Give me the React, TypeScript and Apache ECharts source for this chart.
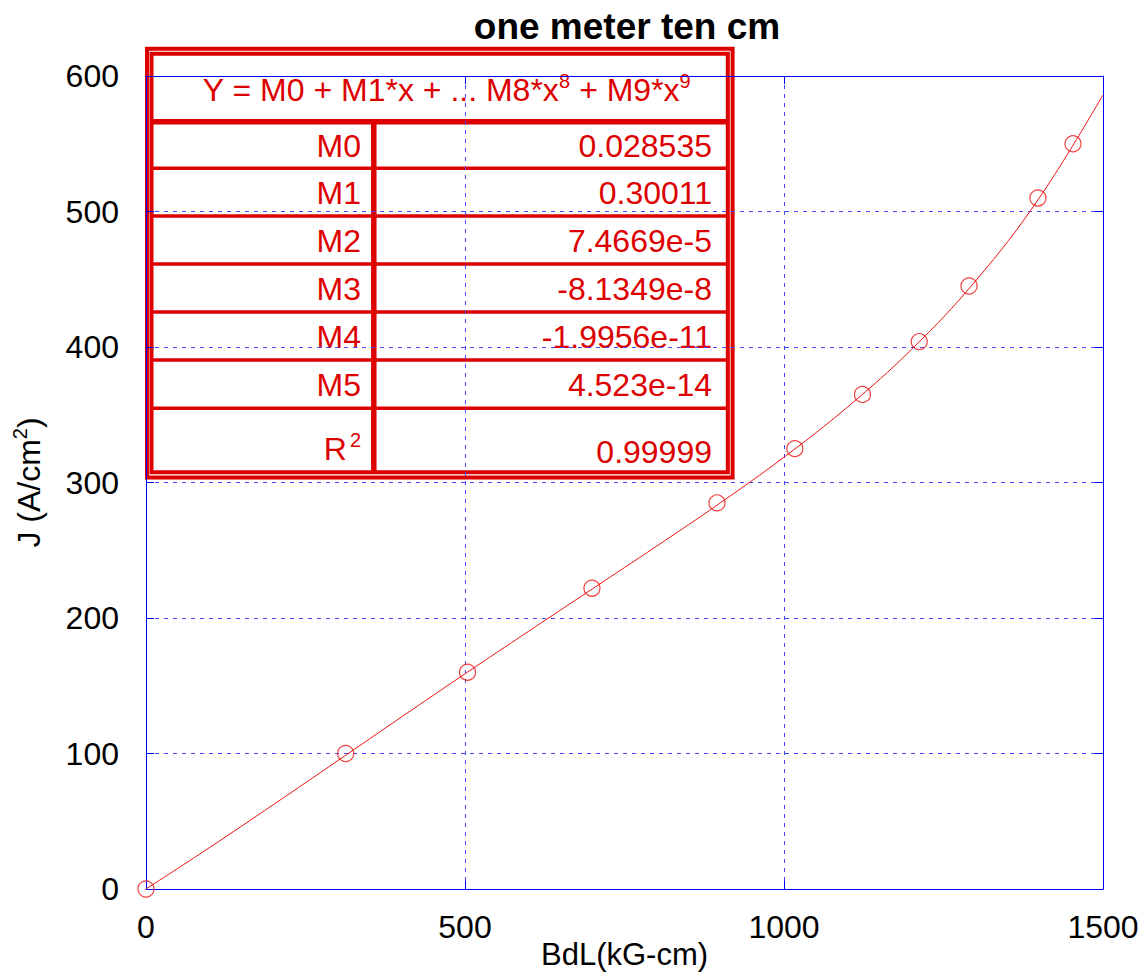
import React, { useEffect, useRef } from "react";
import * as echarts from "echarts";

const titleText = "one meter ten cm";
const xAxisName = "BdL(kG-cm)";
const yAxisNameParts = ["J (A/cm", "2", ")"];

const xTicks = { min: 0, max: 1500, interval: 500 };
const yTicks = { min: 0, max: 600, interval: 100 };

// measured points
const pointsX = [0, 313, 504, 699, 895, 1017, 1123, 1212, 1290, 1398, 1453];
const pointsY = [0, 100, 160, 222, 285, 325, 365, 404, 445, 510, 550];

// fitted curve
const curveX = [0, 100, 200, 300, 400, 500, 600, 700, 800, 900, 1000, 1100, 1200, 1300, 1400, 1500];
const curveY = [0, 30.7, 62.4, 94.5, 126.8, 158.8, 190.3, 221.6, 252.9, 284.9, 318.7, 355.9, 398.3, 448.6, 509.9, 586.1];

// fit table
const equationParts = ["Y = M0 + M1*x + ... M8*x", "8", " + M9*x", "9"];
const coefLabels = ["M0", "M1", "M2", "M3", "M4", "M5"];
const coefValues = ["0.028535", "0.30011", "7.4669e-5", "-8.1349e-8", "-1.9956e-11", "4.523e-14"];
const r2Label = ["R", "2"];
const r2Value = "0.99999";

const RED = "#dd0000";
const LINE_RED = "#ee1111";
const BLUE = "#0000ff";
const GRID_BLUE = "#4646ff";
const FONT = "'Liberation Sans', Arial, sans-serif";

export default function App() {
  const ref = useRef<HTMLDivElement>(null);

  useEffect(() => {
    document.body.style.margin = "0";
    const chart = echarts.init(ref.current!, null, { renderer: "svg" });

    // table layout
    const tL = 151.5, tR = 727.8, tT = 53.7, tB = 472.3;
    const headerLine = 121.8;
    const colX = 373.8;
    const rowLines = [168.2, 216, 264, 312, 360, 408.3];
    const rowTops = [headerLine, ...rowLines];
    const tableEls: any[] = [];
    tableEls.push({
      type: "rect",
      shape: { x: 147, y: 48.7, width: 585.6, height: 428.9 },
      style: { fill: "#ffffff", stroke: RED, lineWidth: 4 },
    });
    tableEls.push({
      type: "rect",
      shape: { x: tL, y: tT, width: tR - tL, height: tB - tT },
      style: { fill: "none", stroke: RED, lineWidth: 4 },
    });
    tableEls.push({
      type: "line",
      shape: { x1: tL, y1: headerLine, x2: tR, y2: headerLine },
      style: { stroke: RED, lineWidth: 5.5 },
    });
    tableEls.push({
      type: "line",
      shape: { x1: colX, y1: headerLine, x2: colX, y2: tB },
      style: { stroke: RED, lineWidth: 5.5 },
    });
    rowLines.forEach((y) =>
      tableEls.push({
        type: "line",
        shape: { x1: tL, y1: y, x2: tR, y2: y },
        style: { stroke: RED, lineWidth: 3.5 },
      })
    );
    tableEls.push({
      type: "text",
      x: (tL + tR) / 2 + 7,
      y: (tT + headerLine) / 2 + 2,
      style: {
        text: `{n|${equationParts[0]}}{s|${equationParts[1]}}{n|${equationParts[2]}}{s|${equationParts[3]}}`,
        align: "center",
        verticalAlign: "middle",
        rich: {
          n: { fontSize: 32, fontFamily: FONT, fill: RED, lineHeight: 38 },
          s: { fontSize: 20, fontFamily: FONT, fill: RED, padding: [0, 0, 18, 0] },
        },
      },
    });
    coefLabels.forEach((lab, i) => {
      const cy = (rowTops[i] + rowTops[i + 1]) / 2 + 1;
      tableEls.push({
        type: "text",
        x: 361,
        y: cy,
        style: { text: lab, align: "right", verticalAlign: "middle", fontSize: 32, fontFamily: FONT, fill: RED },
      });
      tableEls.push({
        type: "text",
        x: 712,
        y: cy,
        style: { text: coefValues[i], align: "right", verticalAlign: "middle", fontSize: 32, fontFamily: FONT, fill: RED },
      });
    });
    tableEls.push({
      type: "text",
      x: 361,
      y: 449,
      style: {
        text: `{n|${r2Label[0]}}{s|${r2Label[1]}}`,
        align: "right",
        verticalAlign: "middle",
        rich: {
          n: { fontSize: 32, fontFamily: FONT, fill: RED, lineHeight: 38 },
          s: { fontSize: 20, fontFamily: FONT, fill: RED, padding: [0, 0, 18, 3] },
        },
      },
    });
    tableEls.push({
      type: "text",
      x: 712,
      y: 452,
      style: { text: r2Value, align: "right", verticalAlign: "middle", fontSize: 32, fontFamily: FONT, fill: RED },
    });

    const axisCommon = {
      type: "value" as const,
      axisLine: { show: true, onZero: false, lineStyle: { color: BLUE, width: 1 } },
      axisTick: { show: true, inside: true, length: 8, lineStyle: { color: BLUE } },
    };
    const numFmt = (v: number) => String(v);

    chart.setOption({
      animation: false,
      backgroundColor: "#ffffff",
      title: {
        text: titleText,
        left: 622,
        top: 3,
        textAlign: "center",
        textStyle: { fontSize: 37, fontWeight: "bold", fontFamily: FONT, color: "#000" },
      },
      grid: {
        left: 146,
        right: 41,
        top: 76,
        bottom: 86,
        containLabel: false,
        outerBoundsMode: "none",
      },
      xAxis: [
        {
          ...axisCommon,
          position: "bottom",
          min: xTicks.min,
          max: xTicks.max,
          interval: xTicks.interval,
          name: xAxisName,
          nameLocation: "middle",
          nameGap: 50,
          nameMoveOverlap: false,
          nameTextStyle: { fontSize: 31, fontFamily: FONT, color: "#000", lineHeight: 31 },
          axisLabel: { margin: 22, fontSize: 32, fontFamily: FONT, color: "#000", formatter: numFmt },
          splitLine: { show: true, lineStyle: { color: GRID_BLUE, type: [4, 5], width: 1 } },
        },
        {
          ...axisCommon,
          position: "top",
          min: xTicks.min,
          max: xTicks.max,
          interval: xTicks.interval,
          axisLabel: { show: false },
          splitLine: { show: false },
        },
      ],
      yAxis: [
        {
          ...axisCommon,
          position: "left",
          min: yTicks.min,
          max: yTicks.max,
          interval: yTicks.interval,
          name: `{a|${yAxisNameParts[0]}}{s|${yAxisNameParts[1]}}{a|${yAxisNameParts[2]}}`,
          nameLocation: "middle",
          nameGap: 98,
          nameMoveOverlap: false,
          nameTextStyle: {
            rich: {
              a: { fontSize: 32, fontFamily: FONT, color: "#000", lineHeight: 38 },
              s: { fontSize: 20, fontFamily: FONT, color: "#000", padding: [0, 0, 18, 0] },
            },
          },
          axisLabel: { margin: 27, fontSize: 32, fontFamily: FONT, color: "#000", formatter: numFmt },
          splitLine: { show: true, lineStyle: { color: GRID_BLUE, type: [4, 5], width: 1 } },
        },
        {
          ...axisCommon,
          position: "right",
          min: yTicks.min,
          max: yTicks.max,
          interval: yTicks.interval,
          axisLabel: { show: false },
          splitLine: { show: false },
        },
      ],
      series: [
        {
          type: "line",
          data: curveX.map((x, i) => [x, curveY[i]]),
          smooth: 0.4,
          showSymbol: false,
          lineStyle: { color: LINE_RED, width: 1 },
          z: 3,
        },
        {
          type: "scatter",
          data: pointsX.map((x, i) => [x, pointsY[i]]),
          symbol: "circle",
          symbolSize: 16,
          itemStyle: { color: "rgba(0,0,0,0)", borderColor: LINE_RED, borderWidth: 1.2 },
          z: 4,
        },
      ],
      graphic: [{ type: "group", z: 100, children: tableEls }],
    });

    return () => chart.dispose();
  }, []);

  return (
    <div
      ref={ref}
      style={{ position: "fixed", left: 0, top: 0, width: 1144, height: 975 }}
    />
  );
}
